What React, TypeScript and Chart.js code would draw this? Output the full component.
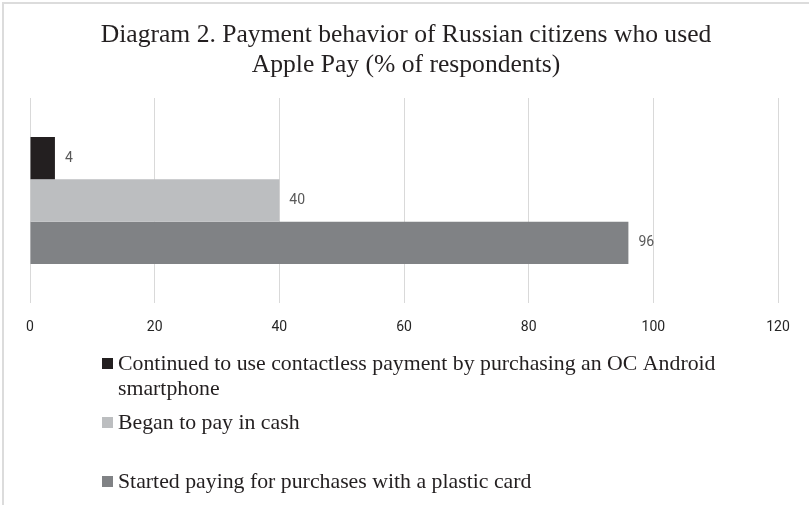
import React, { useEffect, useRef } from 'react';
import { Chart, registerables } from 'chart.js';

Chart.register(...registerables);

const titleLines = ['Diagram 2. Payment behavior of Russian citizens who used', 'Apple Pay (% of respondents)'];
const categories = [''];
const seriesNames = [
  'Continued to use contactless payment by purchasing an OC Android smartphone',
  'Began to pay in cash',
  'Started paying for purchases with a plastic card',
];
const contactlessAndroid = [4];
const payInCash = [40];
const plasticCard = [96];
const xMin = 0;
const xMax = 120;
const xStep = 20;

const seriesColors = ['#231f20', '#bcbec0', '#808285'];

const decorPlugin = {
  id: 'decor',
  beforeDraw(chart: any) {
    const ctx = chart.ctx;
    ctx.save();
    ctx.fillStyle = '#ffffff';
    ctx.fillRect(0, 0, chart.width, chart.height);
    ctx.strokeStyle = '#dcdcdc';
    ctx.lineWidth = 2;
    ctx.beginPath();
    ctx.moveTo(3, chart.height);
    ctx.lineTo(3, 3);
    ctx.lineTo(chart.width, 3);
    ctx.stroke();
    // title
    ctx.fillStyle = '#231f20';
    ctx.font = '25.6px "Liberation Serif", "Times New Roman", serif';
    ctx.textAlign = 'center';
    ctx.textBaseline = 'alphabetic';
    titleLines.forEach((t, i) => ctx.fillText(t, 406, 42 + i * 30));
    ctx.restore();
  },
  afterDatasetsDraw(chart: any) {
    const ctx = chart.ctx;
    ctx.save();
    ctx.font = '14px Roboto, "Open Sans", sans-serif';
    ctx.fillStyle = '#595959';
    ctx.textAlign = 'left';
    ctx.textBaseline = 'middle';
    chart.data.datasets.forEach((ds: any, di: number) => {
      const meta = chart.getDatasetMeta(di);
      meta.data.forEach((el: any, i: number) => {
        ctx.fillText(String(ds.data[i]), el.x + 10, el.y);
      });
    });
    ctx.restore();
  },
  afterDraw(chart: any) {
    const ctx = chart.ctx;
    ctx.save();
    ctx.font = '21.8px "Liberation Serif", "Times New Roman", serif';
    ctx.textAlign = 'left';
    ctx.textBaseline = 'alphabetic';
    const baselines = [370, 429, 488];
    const maxW = 650;
    chart.data.datasets.forEach((ds: any, di: number) => {
      const words = String(ds.label).split(' ');
      const lines: string[] = [];
      let cur = '';
      words.forEach((w) => {
        const test = cur ? cur + ' ' + w : w;
        if (ctx.measureText(test).width > maxW && cur) {
          lines.push(cur);
          cur = w;
        } else cur = test;
      });
      if (cur) lines.push(cur);
      const b = baselines[di];
      ctx.fillStyle = ds.backgroundColor;
      ctx.fillRect(102, b - 12, 11, 11);
      ctx.fillStyle = '#231f20';
      lines.forEach((l, li) => ctx.fillText(l, 118, b + li * 25));
    });
    ctx.restore();
  },
};

export default function App() {
  const ref = useRef<HTMLCanvasElement>(null);
  useEffect(() => {
    document.body.style.margin = '0';
    const chart = new Chart(ref.current as HTMLCanvasElement, {
      type: 'bar',
      data: {
        labels: categories,
        datasets: [
          { label: seriesNames[0], data: contactlessAndroid, backgroundColor: seriesColors[0] },
          { label: seriesNames[1], data: payInCash, backgroundColor: seriesColors[1] },
          { label: seriesNames[2], data: plasticCard, backgroundColor: seriesColors[2] },
        ],
      },
      options: {
        indexAxis: 'y',
        responsive: false,
        animation: false,
        datasets: { bar: { categoryPercentage: 0.62, barPercentage: 1 } },
        layout: { padding: { left: 30, right: 31, top: 98, bottom: 162 } },
        plugins: { legend: { display: false }, title: { display: false }, tooltip: { enabled: false } },
        scales: {
          x: {
            min: xMin,
            max: xMax,
            ticks: {
              stepSize: xStep,
              padding: 16,
              color: '#262626',
              font: { family: 'Roboto, "Open Sans", sans-serif', size: 14 },
            },
            grid: { color: '#d9d9d9', drawTicks: false },
            border: { display: false },
            afterFit: (s: any) => {
              s.height = 40;
            },
          },
          y: { display: false },
        },
      },
      plugins: [decorPlugin],
    } as any);
    return () => chart.destroy();
  }, []);
  return (
    <div style={{ width: 809, height: 505 }}>
      <canvas ref={ref} width={809} height={505} />
    </div>
  );
}
